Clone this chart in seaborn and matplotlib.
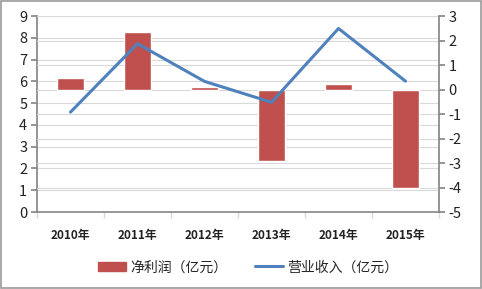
import matplotlib
matplotlib.use("Agg")
import matplotlib.pyplot as plt
import seaborn as sns
import pandas as pd
from matplotlib.patches import Rectangle

years = ["2010年", "2011年", "2012年", "2013年", "2014年", "2015年"]
net_profit = [0.47, 2.35, 0.10, -2.90, 0.22, -4.03]      # 净利润（亿元）, right axis
revenue = [4.59, 7.73, 6.00, 5.04, 8.43, 6.01]           # 营业收入（亿元）, left axis
left_ticks = list(range(0, 10))
right_ticks = list(range(-5, 4))

sns.set_theme(style="white")
plt.rcParams['font.family'] = ['Noto Sans CJK SC', 'DejaVu Sans']
plt.rcParams['axes.unicode_minus'] = False

df = pd.DataFrame({"year": years, "profit": net_profit, "revenue": revenue})

BAR = "#C0504D"
LINE = "#4F81BD"
GRID = "#D9D9D9"
AX = "#888888"

fig = plt.figure(figsize=(4.82, 2.89), dpi=100)
ax = fig.add_axes([0.0768, 0.2664, 0.834, 0.678])
ax_r = ax.twinx()
ax_l = ax.twinx()

# base axes: left ticks + left grid
ax.set_ylim(0, 9)
ax.set_yticks(left_ticks)
ax.grid(axis="y", color=GRID, linewidth=0.8)
ax.set_axisbelow(True)

# bars on right axis
sns.barplot(data=df, x="year", y="profit", color=BAR, width=0.4, saturation=1,
            ax=ax_r, zorder=3)
ax_r.set_ylim(-5, 3)
ax_r.set_yticks(right_ticks)
ax_r.grid(axis="y", color=GRID, linewidth=0.8, zorder=0)
ax_r.set_axisbelow(True)
ax_r.patch.set_visible(False)

# line on left-scale overlay axes
sns.lineplot(data=df, x="year", y="revenue", color=LINE, linewidth=2.2,
             ax=ax_l, sort=False)
ax_l.set_ylim(0, 9)
ax_l.set_yticks([])
ax_l.patch.set_visible(False)

for a in (ax, ax_r, ax_l):
    a.set_xlim(-0.5, len(years) - 0.5)
    a.set_xlabel("")
    a.set_ylabel("")
    for s in a.spines.values():
        s.set_visible(False)

ax.spines["left"].set_visible(True)
ax.spines["left"].set_color(AX)
ax.spines["bottom"].set_visible(True)
ax.spines["bottom"].set_color(AX)
ax_r.spines["right"].set_visible(True)
ax_r.spines["right"].set_color(AX)

ax.tick_params(axis="y", left=True, length=4, color=AX, labelsize=10.5, pad=3,
               labelcolor="#222222")
ax_r.tick_params(axis="y", right=True, length=4, color=AX, labelsize=10.5, pad=3,
                 labelcolor="#222222")

# x: labels centered, tick marks at category boundaries
ax.set_xticks(range(len(years)))
ax.set_xticklabels(years, fontsize=8.5, fontweight="bold", color="#222222")
ax.tick_params(axis="x", length=0, pad=12, labelbottom=True)
ax.set_xticks([i - 0.5 for i in range(len(years) + 1)], minor=True)
ax.tick_params(axis="x", which="minor", length=4, color=GRID, bottom=True)
for a in (ax_r, ax_l):
    a.tick_params(axis="x", which="both", bottom=False, labelbottom=False)

handles = [Rectangle((0, 0), 1, 1, color=BAR),
           plt.Line2D([0], [0], color=LINE, linewidth=2.2)]
fig.legend(handles, ["净利润（亿元）", "营业收入（亿元）"], loc="center",
           bbox_to_anchor=(0.515, 0.075), ncol=2, frameon=False, fontsize=10,
           handlelength=2.0, handleheight=0.7, columnspacing=2.0, handletextpad=0.3)

fig.patches.append(Rectangle((0.002, 0.003), 0.996, 0.994, transform=fig.transFigure,
                             fill=False, edgecolor="#999999", linewidth=1.2))

fig.savefig("out.png", dpi=100)
